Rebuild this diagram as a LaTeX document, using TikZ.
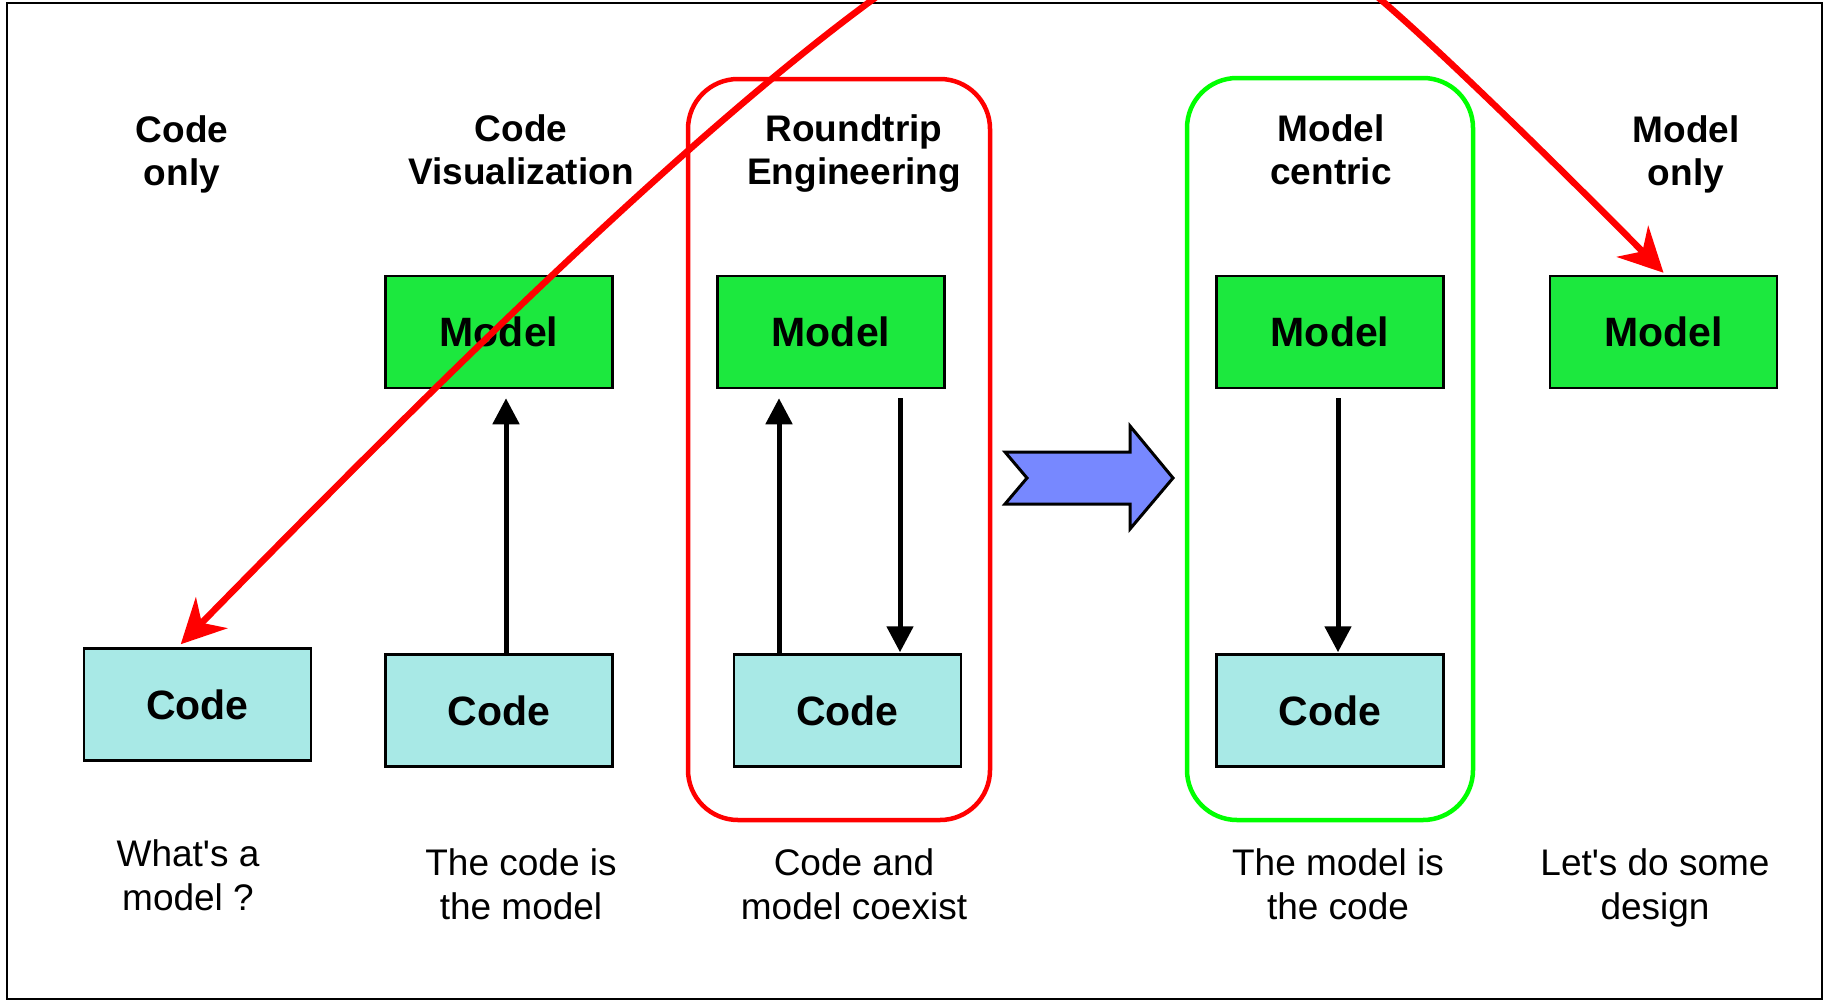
\documentclass[tikz,border=0pt]{standalone}
\usepackage{fontspec}
\setmainfont{Liberation Sans}
\usetikzlibrary{arrows.meta,calc}
\definecolor{modelgreen}{RGB}{28,232,62}
\definecolor{codecyan}{RGB}{168,233,230}
\definecolor{arrowblue}{RGB}{119,136,255}
\definecolor{boxred}{RGB}{255,0,0}
\definecolor{boxgreen}{RGB}{0,255,0}
\begin{document}
\begin{tikzpicture}[x=1pt,y=-1pt,
  box/.style={draw=black, line width=2.5pt, minimum width=227pt, minimum height=112pt, inner sep=0pt, font=\fontsize{41}{49}\selectfont\bfseries},
  modelbox/.style={box, fill=modelgreen},
  codebox/.style={box, fill=codecyan},
  title/.style={align=center, font=\fontsize{37}{43}\selectfont\bfseries, inner sep=0pt},
  caption/.style={align=center, font=\fontsize{37}{44}\selectfont, inner sep=0pt},
  flow/.style={line width=5pt, -{Triangle[length=26pt,width=26pt]}},
  jump/.style={draw=boxred, line width=6.5pt, -{Stealth[length=44pt,width=44pt,inset=14pt]}},
  frame/.style={rounded corners=50pt, line width=4.5pt, inner sep=0pt}
]
\useasboundingbox (0,0) rectangle (1827,1001);
\draw[line width=2.5pt] (7,3) rectangle (1822,999);

% frames
\node[frame, draw=boxred, minimum width=302pt, minimum height=741pt] (rt) at (839,449.5) {};
\node[frame, draw=boxgreen, minimum width=286pt, minimum height=742pt] (mc) at (1330,449) {};

% titles
\node[title] (t1) at (182,154) {Code\\only};
\node[title] (t2) at (521,150) {Code\\Visualization};
\node[title] (t3) at (854,154) {Roundtrip\\Engineering};
\node[title] (t4) at (1331,150) {Model\\centric};
\node[title] (t5) at (1686,154) {Model\\only};

% boxes
\node[modelbox] (m2) at (499,332) {Model};
\node[modelbox] (m3) at (831,332) {Model};
\node[modelbox] (m4) at (1330,332) {Model};
\node[modelbox] (m5) at (1663.5,332) {Model};
\node[codebox] (c1) at (197.5,704.5) {Code};
\node[codebox] (c2) at (499,710.5) {Code};
\node[codebox] (c3) at (847.5,710.5) {Code};
\node[codebox] (c4) at (1330,710.5) {Code};

% captions
\node[caption] (k1) at (188,875) {What\textquotesingle s a\\model ?};
\node[caption] (k2) at (521,884) {The code is\\the model};
\node[caption] (k3) at (854,884) {Code and\\model coexist};
\node[caption] (k4) at (1338,884) {The model is\\the code};
\node[caption] (k5) at (1655,888) {Let\textquotesingle s do some\\design};

% black arrows
\draw[flow] ($(c2.north)+(7,0)$) -- ($(c2.north |- m2.south)+(7,9)$);
\draw[flow] ($(c3.north)+(-68.5,0)$) -- ($(c3.north |- m3.south)+(-68.5,9)$);
\draw[flow] ($(m3.south)+(69,9)$) -- ($(m3.south |- c3.north)+(69,-1)$);
\draw[flow] ($(m4.south)+(8,9)$) -- ($(c4.north)+(8,-1)$);

% big blue arrow
\draw[line width=3pt, fill=arrowblue, line join=miter]
  (1005,452) -- (1130,452) -- (1130,426) -- (1173,478) -- (1130,529)
  -- (1130,504) -- (1005,504) -- (1027,478) -- cycle;

% red jumps
\begin{scope}
\clip (0,0) rectangle (1827,1001);
\coordinate (jl) at (900,-20);
\coordinate (jr) at (1350,-25);
\draw[jump] (jl) .. controls (700,120) and (432,388) .. ($(c1.north west)+(98,-3)$);
\draw[jump] (jr) .. controls (1400,10) and (1560,168) .. ($(m5.north)+(0,-2)$);
\end{scope}
\end{tikzpicture}
\end{document}
